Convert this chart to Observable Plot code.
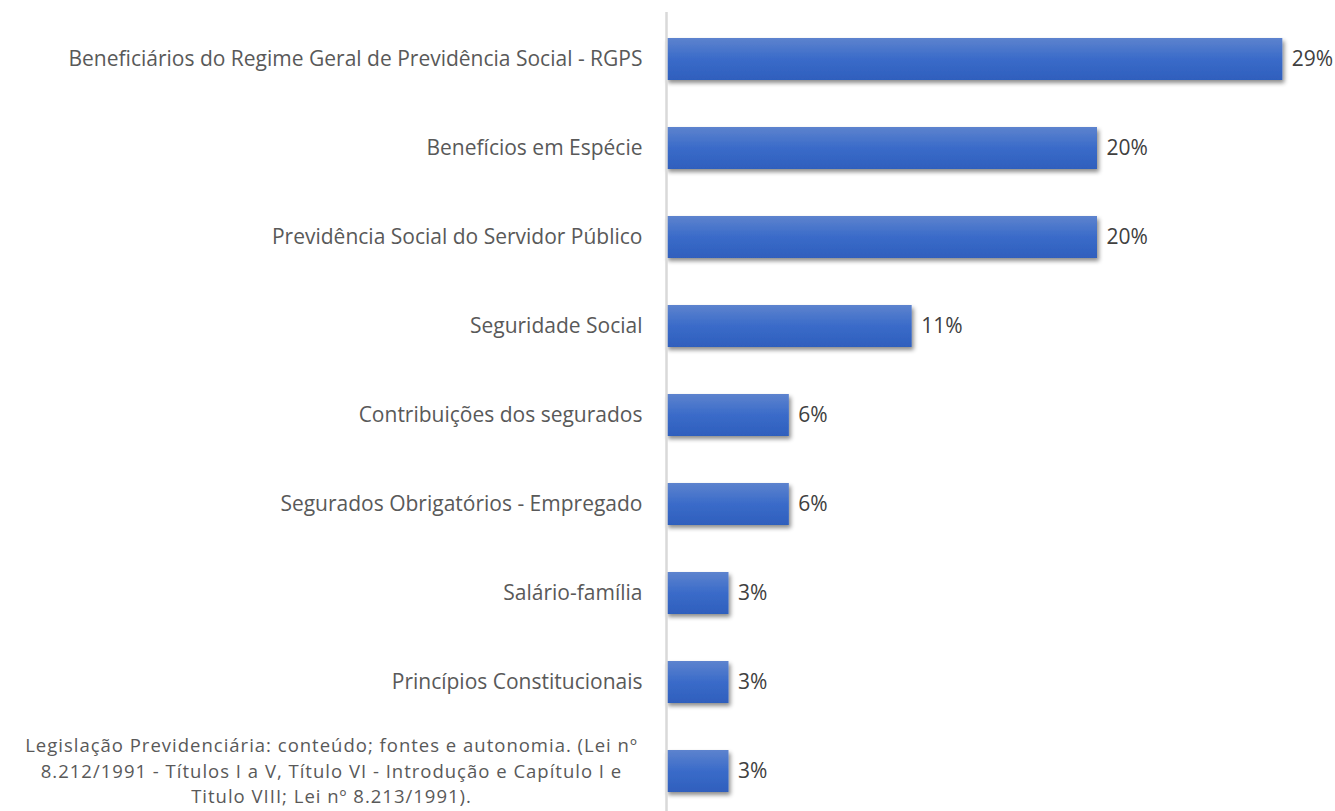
<!DOCTYPE html>
<html>
<head>
<meta charset="utf-8">
<script src="https://cdn.jsdelivr.net/npm/d3@7"></script>
<script src="https://cdn.jsdelivr.net/npm/@observablehq/plot@0.6"></script>
<style>
  html, body { margin: 0; padding: 0; background: #fff; }
  #chart svg { display: block; }
</style>
</head>
<body>
<div id="chart"></div>
<script>
const categories = [
  "Beneficiários do Regime Geral de Previdência Social - RGPS",
  "Benefícios em Espécie",
  "Previdência Social do Servidor Público",
  "Seguridade Social",
  "Contribuições dos segurados",
  "Segurados Obrigatórios - Empregado",
  "Salário-família",
  "Princípios Constitucionais",
  "Legislação Previdenciária: conteúdo; fontes e autonomia. (Lei nº\n8.212/1991 - Títulos I a V, Título VI - Introdução e Capítulo I e\nTitulo VIII; Lei nº 8.213/1991)."
];
const shares = [28.6, 20.0, 20.0, 11.4, 5.7, 5.7, 2.9, 2.9, 2.9];
const valueLabels = ["29%", "20%", "20%", "11%", "6%", "6%", "3%", "3%", "3%"];

const data = categories.map((c, i) => ({cat: c, v: shares[i], lab: valueLabels[i], multi: c.includes("\n")}));

const font = "'Open Sans', sans-serif";

const plot = Plot.plot({
  width: 1335,
  height: 811,
  marginTop: 12,
  marginBottom: 0,
  marginLeft: 666,
  marginRight: 0,
  style: {fontFamily: font, fontSize: "21px", background: "#fff"},
  x: {domain: [0, 30], range: [666, 666 + 30 * 21.55], axis: null},
  y: {domain: categories, range: [12, 818], paddingInner: 0.53, paddingOuter: 0.265, axis: null},
  marks: [
    Plot.barX(data, {y: "cat", x: "v", fill: "url(#barGrad)", className: "bars"}),
    Plot.ruleX([0], {stroke: "#d9d9d9", strokeWidth: 2.5}),
    Plot.text(data.filter(d => !d.multi), {y: "cat", x: 0, text: "cat", textAnchor: "end", dx: -24, fill: "#595959", fontSize: 21}),
    Plot.text(data.filter(d => d.multi), {y: "cat", x: 0, text: "cat", textAnchor: "middle", dx: -335, dy: -2, lineHeight: 1.37, fill: "#595959", fontSize: 18.5, className: "multi"}),
    Plot.text(data, {y: "cat", x: "v", text: "lab", textAnchor: "start", dx: 9, fill: "#404040", fontSize: 21})
  ]
});

const svg = d3.select(plot);
const defs = svg.insert("defs", ":first-child");
const g = defs.append("linearGradient").attr("id", "barGrad").attr("x1", 0).attr("y1", 0).attr("x2", 0).attr("y2", 1);
g.append("stop").attr("offset", "0%").attr("stop-color", "#5d83ce");
g.append("stop").attr("offset", "50%").attr("stop-color", "#3a6bc9");
g.append("stop").attr("offset", "100%").attr("stop-color", "#2f5fbd");
const f = defs.append("filter").attr("id", "shadow").attr("x", "-10%").attr("y", "-20%").attr("width", "130%").attr("height", "160%");
f.append("feDropShadow").attr("dx", 2).attr("dy", 3).attr("stdDeviation", 2).attr("flood-color", "#000").attr("flood-opacity", 0.45);
svg.selectAll("g.bars rect").attr("filter", "url(#shadow)");
svg.selectAll("g.multi").style("letter-spacing", "1px");

document.getElementById("chart").appendChild(plot);
</script>
</body>
</html>
